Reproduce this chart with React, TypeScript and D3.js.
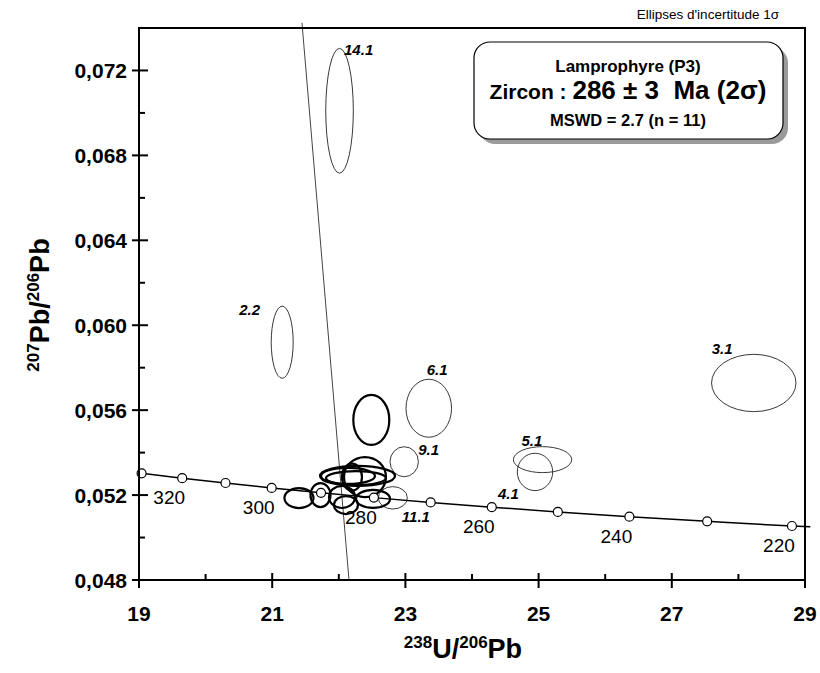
import React from 'react';
import * as d3 from 'd3';

// ---------- data ----------
const xDomain = [19, 29];
const yDomain = [0.048, 0.074];
const xMajorTicks = [19, 21, 23, 25, 27, 29];
const xMinorTicks = [20, 22, 24, 26, 28];
const yMajorTicks = [0.048, 0.052, 0.056, 0.06, 0.064, 0.068, 0.072];
const yMinorTicks = [0.05, 0.054, 0.058, 0.062, 0.066, 0.07];
const yTickLabels = ['0,048', '0,052', '0,056', '0,060', '0,064', '0,068', '0,072'];

// concordia ages (Ma) and their 238U/206Pb, 207Pb/206Pb positions
const concAges = [330, 320, 310, 300, 290, 280, 270, 260, 250, 240, 230, 220];
const concX = [19.039, 19.649, 20.299, 20.992, 21.733, 22.527, 23.379, 24.297, 25.289, 26.363, 27.531, 28.804];
const concY = [0.053026, 0.052794, 0.052568, 0.052337, 0.052107, 0.05188, 0.051655, 0.05143, 0.051207, 0.050984, 0.050762, 0.050543];
const concEndX = 29.08;
const concEndY = 0.050505;
const concLabelAges = [320, 300, 280, 260, 240, 220];

// reference line
const lineX = [21.447, 22.153];
const lineY = [0.07424, 0.048];

// excluded (thin) ellipses
const thinNames = ['14.1', '2.2', '6.1', '9.1', '11.1', '5.1', '4.1', '3.1'];
const thinCx = [22.011, 21.15, 23.351, 22.982, 22.811, 25.059, 24.946, 28.231];
const thinCy = [0.0701, 0.0592, 0.05609, 0.05357, 0.05187, 0.05367, 0.05309, 0.05728];
const thinRx = [0.207, 0.165, 0.342, 0.213, 0.218, 0.438, 0.266, 0.634];
const thinRy = [0.00294, 0.0017, 0.001366, 0.000707, 0.000528, 0.000612, 0.00088, 0.00135];

// retained (bold) ellipses, n = 11
const boldCx = [22.488, 21.402, 21.725, 22.048, 22.108, 22.514, 22.281, 22.138, 22.393, 22.198, 22.258];
const boldCy = [0.05554, 0.05186, 0.052, 0.05191, 0.05153, 0.05182, 0.0529, 0.0529, 0.05285, 0.05285, 0.0528];
const boldRx = [0.27, 0.218, 0.15, 0.195, 0.18, 0.255, 0.563, 0.405, 0.315, 0.15, 0.45];
const boldRy = [0.001178, 0.000471, 0.000565, 0.000518, 0.000424, 0.000424, 0.000471, 0.000377, 0.000942, 0.000636, 0.00033];

// ---------- styling ----------
const FONT = "'Liberation Sans', Arial, Helvetica, sans-serif";
const labelOffsets: Record<string, [number, number]> = {
  '14.1': [4.5, -56],
  '2.2': [-43, -27],
  '6.1': [-2, -33],
  '9.1': [14, -7],
  '11.1': [9, 24],
  '5.1': [-21, -14],
  '4.1': [-37, 27],
  '3.1': [-42, -29],
};

export default function App() {
  const x = d3.scaleLinear().domain(xDomain).range([139, 805]);
  const y = d3.scaleLinear().domain(yDomain).range([580, 28]);

  const concPts: [number, number][] = concX.map((v, i) => [x(v), y(concY[i])]);
  const concPath = d3.line().curve(d3.curveMonotoneX)([...concPts, [x(concEndX), y(concEndY)]]) || '';

  const ell = (cx: number, cy: number, rx: number, ry: number) => ({
    cx: x(cx),
    cy: y(cy),
    rx: x(cx + rx) - x(cx),
    ry: y(cy) - y(cy + ry),
  });

  return (
    <svg width={820} height={673} style={{ position: 'absolute', left: 0, top: 0, background: '#fff', fontFamily: FONT }}>
      <rect x={0} y={0} width={820} height={673} fill="#fff" />
      {/* top-right note */}
      <text x={779} y={19} textAnchor="end" fontSize={13.5} style={{ fontFamily: FONT }}>Ellipses d'incertitude 1σ</text>

      {/* reference line */}
      <line x1={x(lineX[0])} y1={y(lineY[0])} x2={x(lineX[1])} y2={y(lineY[1])} stroke="#444" strokeWidth={1} />

      {/* concordia */}
      <path d={concPath} fill="none" stroke="#000" strokeWidth={1.5} />

      {/* thin ellipses */}
      {thinNames.map((n, i) => {
        const e = ell(thinCx[i], thinCy[i], thinRx[i], thinRy[i]);
        return <ellipse key={'t' + n} {...e} fill="none" stroke="#222" strokeWidth={0.9} />;
      })}
      {/* bold ellipses */}
      {boldCx.map((c, i) => {
        const e = ell(c, boldCy[i], boldRx[i], boldRy[i]);
        return <ellipse key={'b' + i} {...e} fill="none" stroke="#000" strokeWidth={2.2} />;
      })}

      {/* concordia points */}
      {concPts.map((p, i) => (
        <circle key={'c' + i} cx={p[0]} cy={p[1]} r={4.5} fill="#fff" stroke="#000" strokeWidth={1.2} />
      ))}
      {concAges.map((a, i) =>
        concLabelAges.includes(a) ? (
          <text key={'ca' + a} x={concPts[i][0] - 13} y={concPts[i][1] + 26} textAnchor="middle" fontSize={19} style={{ fontFamily: FONT }}>
            {a}
          </text>
        ) : null
      )}

      {/* ellipse labels */}
      {thinNames.map((n, i) => {
        const e = ell(thinCx[i], thinCy[i], thinRx[i], thinRy[i]);
        const o = labelOffsets[n];
        return (
          <text key={'l' + n} x={e.cx + o[0]} y={e.cy + o[1]} fontSize={15} fontWeight="bold" fontStyle="italic" style={{ fontFamily: FONT }}>
            {n}
          </text>
        );
      })}

      {/* frame */}
      <rect x={139} y={28} width={666} height={552} fill="none" stroke="#000" strokeWidth={2} />
      {/* x ticks */}
      {xMajorTicks.map((t) => (
        <g key={'xm' + t}>
          <line x1={x(t)} x2={x(t)} y1={573} y2={588} stroke="#000" strokeWidth={2} />
          <text x={x(t)} y={621} textAnchor="middle" fontSize={21} fontWeight="bold" style={{ fontFamily: FONT }}>{t}</text>
        </g>
      ))}
      {xMinorTicks.map((t) => (
        <line key={'xn' + t} x1={x(t)} x2={x(t)} y1={574} y2={580} stroke="#000" strokeWidth={2} />
      ))}
      {/* y ticks */}
      {yMajorTicks.map((t, i) => (
        <g key={'ym' + t}>
          <line x1={132} x2={148} y1={y(t)} y2={y(t)} stroke="#000" strokeWidth={2} />
          <text x={127} y={y(t) + 7.5} textAnchor="end" fontSize={21} fontWeight="bold" style={{ fontFamily: FONT }}>{yTickLabels[i]}</text>
        </g>
      ))}
      {yMinorTicks.map((t) => (
        <line key={'yn' + t} x1={139} x2={145} y1={y(t)} y2={y(t)} stroke="#000" strokeWidth={2} />
      ))}

      {/* axis titles */}
      <text x={463} y={658} textAnchor="middle" fontWeight="bold" fontSize={27} style={{ fontFamily: FONT }}>
        <tspan fontSize={17} dy={-10}>238</tspan>
        <tspan dy={10}>U/</tspan>
        <tspan fontSize={17} dy={-10}>206</tspan>
        <tspan dy={10}>Pb</tspan>
      </text>
      <text transform="translate(49,305) rotate(-90)" textAnchor="middle" fontWeight="bold" fontSize={27} style={{ fontFamily: FONT }}>
        <tspan fontSize={17} dy={-10}>207</tspan>
        <tspan dy={10}>Pb/</tspan>
        <tspan fontSize={17} dy={-10}>206</tspan>
        <tspan dy={10}>Pb</tspan>
      </text>

      {/* legend box */}
      <rect x={479} y={47} width={309} height={97} rx={16} fill="#9a9a9a" />
      <rect x={474} y={42} width={309} height={97} rx={16} fill="#fff" stroke="#000" strokeWidth={1.2} />
      <text x={628} y={72} textAnchor="middle" fontWeight="bold" fontSize={17} style={{ fontFamily: FONT }}>Lamprophyre (P3)</text>
      <text x={628} y={99} textAnchor="middle" fontWeight="bold" fontSize={21} style={{ fontFamily: FONT, whiteSpace: 'pre' }}>
        Zircon : <tspan fontSize={26}>286 ± 3  Ma (2σ)</tspan>
      </text>
      <text x={628} y={126} textAnchor="middle" fontWeight="bold" fontSize={16.5} style={{ fontFamily: FONT }}>MSWD = 2.7 (n = 11)</text>
    </svg>
  );
}
